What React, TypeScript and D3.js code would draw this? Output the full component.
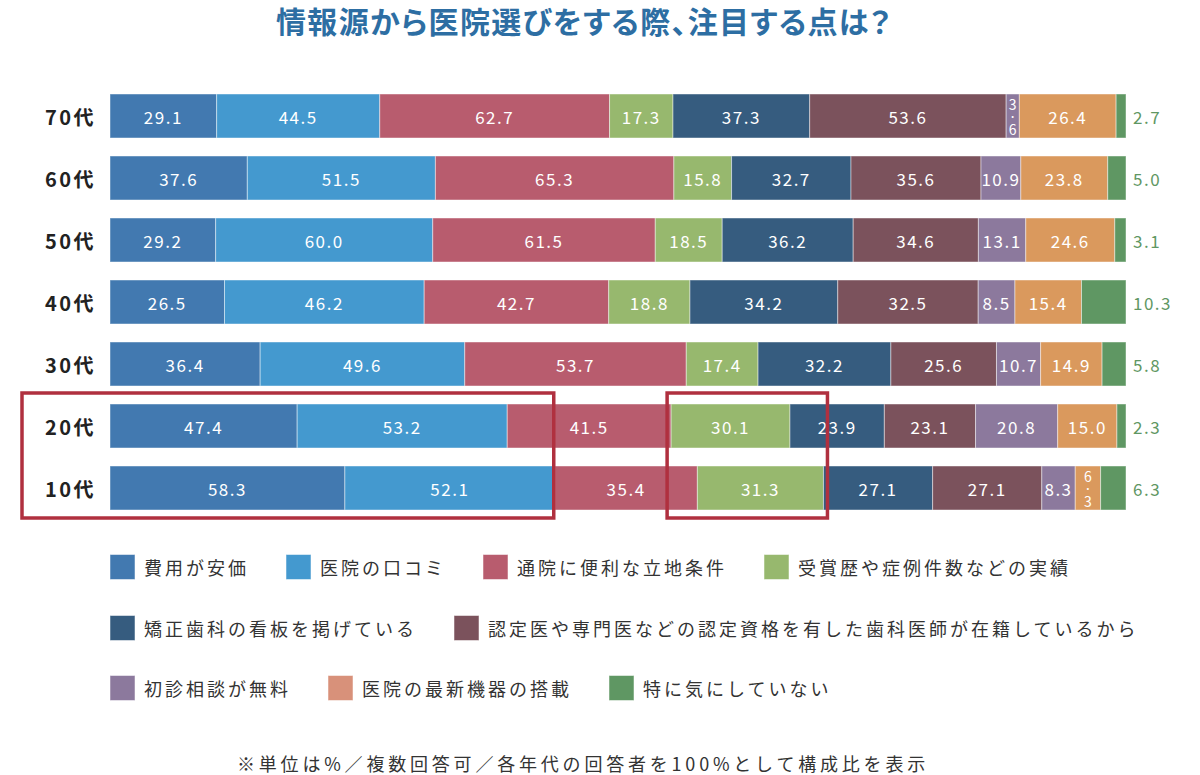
import React from "react";
import * as d3 from "d3";

// age groups, top to bottom
const ages = ["70代", "60代", "50代", "40代", "30代", "20代", "10代"];

// one array per answer, in the order of ages
const cost = [29.1, 37.6, 29.2, 26.5, 36.4, 47.4, 58.3];
const reviews = [44.5, 51.5, 60.0, 46.2, 49.6, 53.2, 52.1];
const access = [62.7, 65.3, 61.5, 42.7, 53.7, 41.5, 35.4];
const record = [17.3, 15.8, 18.5, 18.8, 17.4, 30.1, 31.3];
const signboard = [37.3, 32.7, 36.2, 34.2, 32.2, 23.9, 27.1];
const certified = [53.6, 35.6, 34.6, 32.5, 25.6, 23.1, 27.1];
const freeConsult = [3.6, 10.9, 13.1, 8.5, 10.7, 20.8, 8.3];
const equipment = [26.4, 23.8, 24.6, 15.4, 14.9, 15.0, 6.3];
const noPreference = [2.7, 5.0, 3.1, 10.3, 5.8, 2.3, 6.3];

const seriesNames = [
  "費用が安価",
  "医院の口コミ",
  "通院に便利な立地条件",
  "受賞歴や症例件数などの実績",
  "矯正歯科の看板を掲げている",
  "認定医や専門医などの認定資格を有した歯科医師が在籍しているから",
  "初診相談が無料",
  "医院の最新機器の搭載",
  "特に気にしていない",
];
const seriesValues = [cost, reviews, access, record, signboard, certified, freeConsult, equipment, noPreference];
const seriesColors = ["#4279b0", "#4499cf", "#b85c6e", "#97b86e", "#365c7f", "#7b525c", "#8c799d", "#da995d", "#5f9763"];
const legendColors = ["#4279b0", "#4499cf", "#b85c6e", "#97b86e", "#365c7f", "#7b525c", "#8c799d", "#d8917a", "#5f9763"];
// legend rows (indices into seriesNames)
const legendRows = [[0, 1, 2, 3], [4, 5], [6, 7, 8]];

const title = "情報源から医院選びをする際、注目する点は？";
const note = "※単位は%／複数回答可／各年代の回答者を100%として構成比を表示";

const FONT = "'Noto Sans CJK JP', 'Noto Sans', sans-serif";
const W = 1200;
const H = 775;

export default function App() {
  const keys = seriesNames.map((_, i) => String(i));
  const rows = ages.map((age, r) => {
    const o: any = { age };
    keys.forEach((k, i) => (o[k] = seriesValues[i][r]));
    return o;
  });
  const stacked = d3.stack<any>().keys(keys).offset(d3.stackOffsetExpand)(rows);

  const x = d3.scaleLinear().domain([0, 1]).range([110, 1126]);
  const y = d3
    .scaleBand<string>()
    .domain(ages)
    .range([94, 94 + 6 * 62 + 44])
    .paddingInner(18 / 62)
    .paddingOuter(0);
  const bh = y.bandwidth();

  // highlight boxes: 20代/10代, first two answers and the "実績" answer
  const yTop = (y("20代") as number) - 11;
  const yBot = (y("10代") as number) + bh + 8;
  const idx10 = ages.indexOf("10代");
  const idx20 = ages.indexOf("20代");
  const box1Right = x(stacked[1][idx10][1]) - 1;
  const g20 = stacked[3][idx20];
  const g10 = stacked[3][idx10];
  const box2Left = Math.min(x(g20[0]), x(g10[0])) - 4;
  const box2Right = Math.max(x(g20[1]), x(g10[1])) + 4;

  const charW = 21;
  const legendY = [567, 628, 688];

  return (
    <svg width={W} height={H} style={{ display: "block", position: "absolute", left: 0, top: 0 }} fontFamily={FONT}>
      <rect width={W} height={H} fill="#fff" />
      <text
        x={584}
        y={33}
        textAnchor="middle"
        fontSize={30}
        fontWeight={700}
        fill="#2d6ea3"
        letterSpacing={1.3}
        style={{ fontFeatureSettings: "'palt'" }}
      >
        {title}
      </text>

      {ages.map((age) => (
        <text
          key={age}
          x={96}
          y={(y(age) as number) + bh / 2}
          dominantBaseline="central"
          textAnchor="end"
          fontSize={20}
          fontWeight={700}
          fill="#222"
          letterSpacing={2.5}
        >
          {age}
        </text>
      ))}

      {stacked.map((s, si) => (
        <g key={si}>
          {s.map((d, ri) => {
            const x0 = x(d[0]);
            const x1 = x(d[1]);
            const w = x1 - x0;
            const yy = y(ages[ri]) as number;
            const cx = (x0 + x1) / 2;
            const cy = yy + bh / 2;
            const label = seriesValues[si][ri].toFixed(1);
            const last = si === stacked.length - 1;
            return (
              <g key={ri}>
                <rect x={x0} y={yy} width={w} height={bh} fill={seriesColors[si]} stroke="#ffffff" strokeOpacity={0.45} strokeWidth={1} />
                {last ? (
                  <text x={1133} y={cy} dominantBaseline="central" fontSize={17} fill="#5f9763" letterSpacing={1.5}>
                    {label}
                  </text>
                ) : w < 30 ? (
                  <text textAnchor="middle" fontSize={14} fill="#fff">
                    {label.split("").map((c, ci) => (
                      <tspan key={ci} x={cx} y={cy + (ci - 1) * 12.5} dominantBaseline="central">
                        {c === "." ? "·" : c}
                      </tspan>
                    ))}
                  </text>
                ) : (
                  <text x={cx} y={cy} dominantBaseline="central" textAnchor="middle" fontSize={17} fill="#fff" letterSpacing={1.5}>
                    {label}
                  </text>
                )}
              </g>
            );
          })}
        </g>
      ))}

      <rect x={22} y={yTop} width={box1Right - 22} height={yBot - yTop} fill="none" stroke="#b0303f" strokeWidth={3.5} />
      <rect x={box2Left} y={yTop} width={box2Right - box2Left} height={yBot - yTop} fill="none" stroke="#b0303f" strokeWidth={3.5} />

      {legendRows.map((row, li) => {
        let cursor = 110;
        return (
          <g key={li}>
            {row.map((si) => {
              const sx = cursor;
              const name = seriesNames[si];
              cursor = sx + 34 + name.length * charW + 37;
              return (
                <g key={si}>
                  <rect
                    x={sx}
                    y={legendY[li] - 12.5}
                    width={25}
                    height={25}
                    fill={legendColors[si]}
                    stroke="#ffffff"
                    strokeOpacity={0.5}
                  />
                  <text x={sx + 34} y={legendY[li]} dominantBaseline="central" fontSize={18} fill="#333" letterSpacing={3}>
                    {name}
                  </text>
                </g>
              );
            })}
          </g>
        );
      })}

      <text x={583} y={763} dominantBaseline="central" textAnchor="middle" fontSize={18} fill="#333" letterSpacing={3.8}>
        {note}
      </text>
    </svg>
  );
}
